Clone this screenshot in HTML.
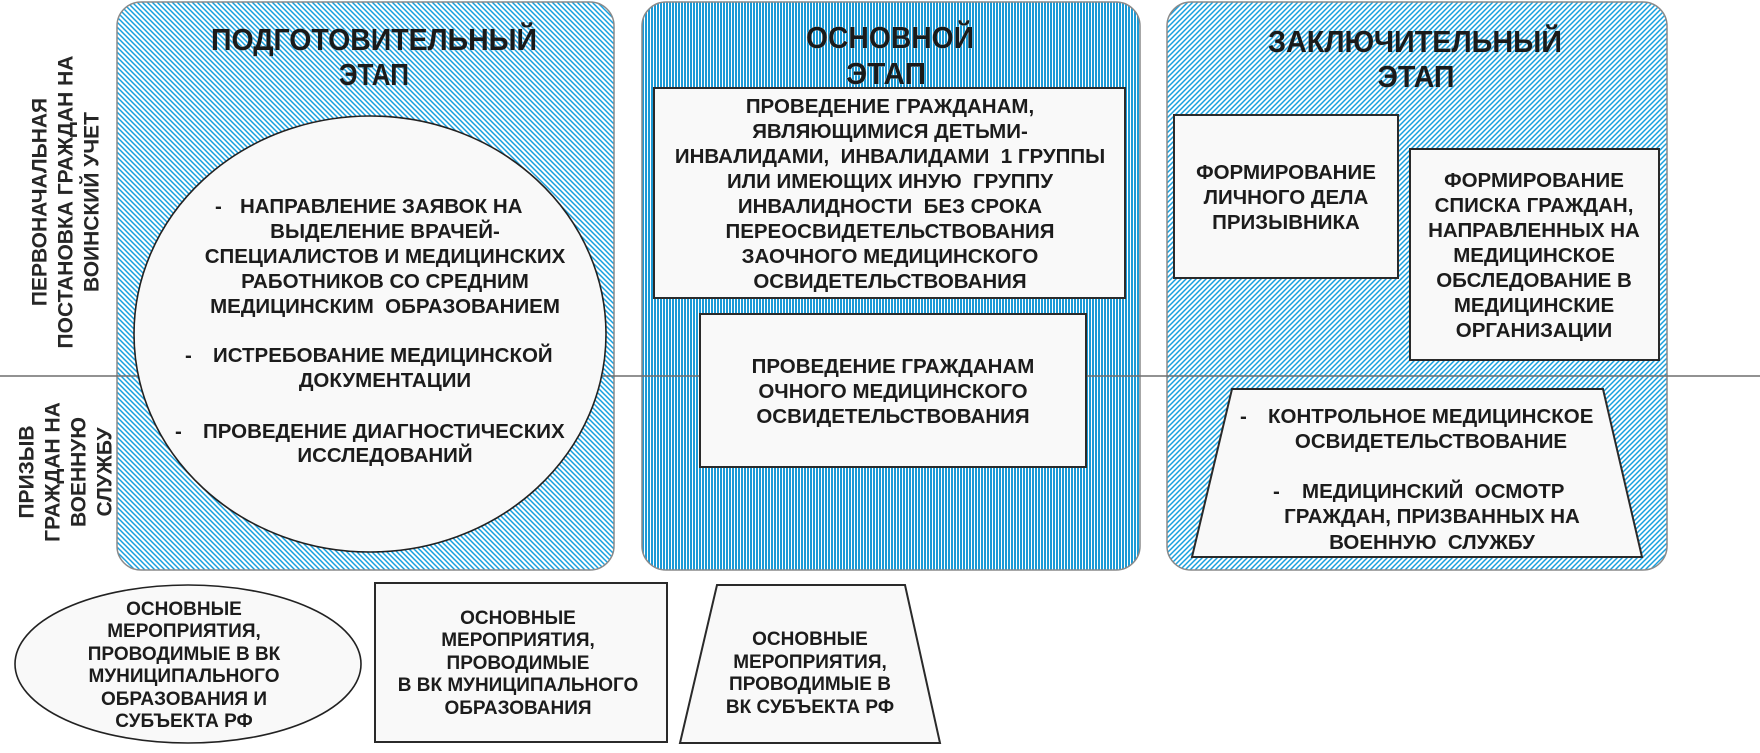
<!DOCTYPE html>
<html><head><meta charset="utf-8"><style>
html,body{margin:0;padding:0;background:#fff;}
svg{display:block;}
text{font-family:"Liberation Sans","DejaVu Sans",sans-serif;font-weight:bold;fill:#1c1c1c;white-space:pre;}
.t{font-size:20.5px;}
.s{font-size:19px;}
.v{font-size:21px;fill:#262626;}
.h{font-size:31px;fill:#1a1a1a;stroke:#9fdcf5;stroke-width:0.6px;paint-order:stroke;}
</style></head><body>
<svg width="1760" height="753" viewBox="0 0 1760 753" xmlns="http://www.w3.org/2000/svg">
<defs>
<pattern id="pl" patternUnits="userSpaceOnUse" x="0" y="0" width="5" height="5">
<rect width="5" height="5" fill="#ffffff"/>
<path d="M-1,4 L1,6 M0,0 L5,5 M4,-1 L6,1" stroke="#18a0de" stroke-width="1.5" fill="none"/></pattern>
<pattern id="pr" patternUnits="userSpaceOnUse" x="0" y="0" width="5" height="5">
<rect width="5" height="5" fill="#ffffff"/>
<path d="M-1,1 L1,-1 M0,5 L5,0 M4,6 L6,4" stroke="#18a0de" stroke-width="1.5" fill="none"/></pattern>
<pattern id="pm" patternUnits="userSpaceOnUse" width="3" height="3">
<rect width="3" height="3" fill="#ffffff"/><rect width="2" height="3" fill="#1b9ad6"/></pattern>
</defs>
<rect width="1760" height="753" fill="#fff"/>

<!-- panels -->
<rect x="117" y="2" width="497" height="568" rx="24" ry="24" fill="url(#pl)" stroke="#8a8a8a" stroke-width="1.5"/>
<rect x="642" y="2" width="498" height="568" rx="24" ry="24" fill="url(#pm)" stroke="#8a8a8a" stroke-width="1.5"/>
<rect x="1167" y="2" width="500" height="568" rx="24" ry="24" fill="url(#pr)" stroke="#8a8a8a" stroke-width="1.5"/>

<!-- divider line -->
<line x1="0" y1="376" x2="1760" y2="376" stroke="#6e6e6e" stroke-width="1.6"/>

<!-- titles -->
<text class="h" x="374" y="50" text-anchor="middle" textLength="326" lengthAdjust="spacingAndGlyphs">ПОДГОТОВИТЕЛЬНЫЙ</text>
<text class="h" x="374" y="85" text-anchor="middle" textLength="70" lengthAdjust="spacingAndGlyphs">ЭТАП</text>
<text class="h" x="890" y="48" text-anchor="middle" textLength="168" lengthAdjust="spacingAndGlyphs">ОСНОВНОЙ</text>
<text class="h" x="886" y="84" text-anchor="middle" textLength="80" lengthAdjust="spacingAndGlyphs">ЭТАП</text>
<text class="h" x="1415" y="52" text-anchor="middle" textLength="294" lengthAdjust="spacingAndGlyphs">ЗАКЛЮЧИТЕЛЬНЫЙ</text>
<text class="h" x="1416" y="87" text-anchor="middle" textLength="77" lengthAdjust="spacingAndGlyphs">ЭТАП</text>

<!-- vertical labels -->
<g class="v">
<text class="v" text-anchor="middle" transform="translate(46.5,202) rotate(-90)">ПЕРВОНАЧАЛЬНАЯ</text>
<text class="v" text-anchor="middle" transform="translate(72.5,202) rotate(-90)">ПОСТАНОВКА ГРАЖДАН НА</text>
<text class="v" text-anchor="middle" transform="translate(98.5,202) rotate(-90)">ВОИНСКИЙ УЧЕТ</text>
<text class="v" text-anchor="middle" transform="translate(33.5,472) rotate(-90)">ПРИЗЫВ</text>
<text class="v" text-anchor="middle" transform="translate(59.5,472) rotate(-90)">ГРАЖДАН НА</text>
<text class="v" text-anchor="middle" transform="translate(85.5,472) rotate(-90)">ВОЕННУЮ</text>
<text class="v" text-anchor="middle" transform="translate(111.5,472) rotate(-90)">СЛУЖБУ</text>
</g>

<!-- left circle -->
<ellipse cx="370" cy="334" rx="236" ry="218" fill="#f9f9f9" stroke="#222" stroke-width="1.6"/>
<g class="t">
<text class="t" x="215" y="213">-</text>
<text class="t" x="240" y="213">НАПРАВЛЕНИЕ ЗАЯВОК НА</text>
<text class="t" x="385" y="238" text-anchor="middle">ВЫДЕЛЕНИЕ ВРАЧЕЙ-</text>
<text class="t" x="385" y="263" text-anchor="middle">СПЕЦИАЛИСТОВ И МЕДИЦИНСКИХ</text>
<text class="t" x="385" y="288" text-anchor="middle">РАБОТНИКОВ СО СРЕДНИМ</text>
<text class="t" x="385" y="313" text-anchor="middle">МЕДИЦИНСКИМ  ОБРАЗОВАНИЕМ</text>
<text class="t" x="185" y="362">-</text>
<text class="t" x="213" y="362">ИСТРЕБОВАНИЕ МЕДИЦИНСКОЙ</text>
<text class="t" x="385" y="387" text-anchor="middle">ДОКУМЕНТАЦИИ</text>
<text class="t" x="175" y="438">-</text>
<text class="t" x="203" y="438">ПРОВЕДЕНИЕ ДИАГНОСТИЧЕСКИХ</text>
<text class="t" x="385" y="462" text-anchor="middle">ИССЛЕДОВАНИЙ</text>
</g>

<!-- middle boxes -->
<rect x="654" y="88" width="471" height="210" fill="#f9f9f9" stroke="#2a2a2a" stroke-width="2"/>
<g>
<text class="t" x="890" y="113" text-anchor="middle">ПРОВЕДЕНИЕ ГРАЖДАНАМ,</text>
<text class="t" x="890" y="138" text-anchor="middle">ЯВЛЯЮЩИМИСЯ ДЕТЬМИ-</text>
<text class="t" x="890" y="163" text-anchor="middle">ИНВАЛИДАМИ,  ИНВАЛИДАМИ  1 ГРУППЫ</text>
<text class="t" x="890" y="188" text-anchor="middle">ИЛИ ИМЕЮЩИХ ИНУЮ  ГРУППУ</text>
<text class="t" x="890" y="213" text-anchor="middle">ИНВАЛИДНОСТИ  БЕЗ СРОКА</text>
<text class="t" x="890" y="238" text-anchor="middle">ПЕРЕОСВИДЕТЕЛЬСТВОВАНИЯ</text>
<text class="t" x="890" y="263" text-anchor="middle">ЗАОЧНОГО МЕДИЦИНСКОГО</text>
<text class="t" x="890" y="288" text-anchor="middle">ОСВИДЕТЕЛЬСТВОВАНИЯ</text>
</g>
<rect x="700" y="314" width="386" height="153" fill="#f9f9f9" stroke="#2a2a2a" stroke-width="2"/>
<text class="t" x="893" y="373" text-anchor="middle">ПРОВЕДЕНИЕ ГРАЖДАНАМ</text>
<text class="t" x="893" y="398" text-anchor="middle">ОЧНОГО МЕДИЦИНСКОГО</text>
<text class="t" x="893" y="423" text-anchor="middle">ОСВИДЕТЕЛЬСТВОВАНИЯ</text>

<!-- right panel -->
<rect x="1174" y="115" width="224" height="163" fill="#f9f9f9" stroke="#2a2a2a" stroke-width="2"/>
<text class="t" x="1286" y="179" text-anchor="middle">ФОРМИРОВАНИЕ</text>
<text class="t" x="1286" y="204" text-anchor="middle">ЛИЧНОГО ДЕЛА</text>
<text class="t" x="1286" y="229" text-anchor="middle">ПРИЗЫВНИКА</text>

<rect x="1410" y="149" width="249" height="211" fill="#f9f9f9" stroke="#2a2a2a" stroke-width="2"/>
<text class="t" x="1534" y="187" text-anchor="middle">ФОРМИРОВАНИЕ</text>
<text class="t" x="1534" y="212" text-anchor="middle">СПИСКА ГРАЖДАН,</text>
<text class="t" x="1534" y="237" text-anchor="middle">НАПРАВЛЕННЫХ НА</text>
<text class="t" x="1534" y="262" text-anchor="middle">МЕДИЦИНСКОЕ</text>
<text class="t" x="1534" y="287" text-anchor="middle">ОБСЛЕДОВАНИЕ В</text>
<text class="t" x="1534" y="312" text-anchor="middle">МЕДИЦИНСКИЕ</text>
<text class="t" x="1534" y="337" text-anchor="middle">ОРГАНИЗАЦИИ</text>

<polygon points="1232,389 1603,389 1642,557 1192,557" fill="#f9f9f9" stroke="#2a2a2a" stroke-width="2"/>
<text class="t" x="1240" y="423">-</text>
<text class="t" x="1268" y="423">КОНТРОЛЬНОЕ МЕДИЦИНСКОЕ</text>
<text class="t" x="1431" y="448" text-anchor="middle">ОСВИДЕТЕЛЬСТВОВАНИЕ</text>
<text class="t" x="1273" y="498">-</text>
<text class="t" x="1302" y="498">МЕДИЦИНСКИЙ  ОСМОТР</text>
<text class="t" x="1432" y="523" text-anchor="middle">ГРАЖДАН, ПРИЗВАННЫХ НА</text>
<text class="t" x="1432" y="549" text-anchor="middle">ВОЕННУЮ  СЛУЖБУ</text>

<!-- bottom legend -->
<ellipse cx="188" cy="664" rx="173" ry="79" fill="#f9f9f9" stroke="#222" stroke-width="1.6"/>
<text class="s" x="184" y="615" text-anchor="middle">ОСНОВНЫЕ</text>
<text class="s" x="184" y="637" text-anchor="middle">МЕРОПРИЯТИЯ,</text>
<text class="s" x="184" y="660" text-anchor="middle">ПРОВОДИМЫЕ В ВК</text>
<text class="s" x="184" y="682" text-anchor="middle">МУНИЦИПАЛЬНОГО</text>
<text class="s" x="184" y="705" text-anchor="middle">ОБРАЗОВАНИЯ И</text>
<text class="s" x="184" y="727" text-anchor="middle">СУБЪЕКТА РФ</text>

<rect x="375" y="583" width="292" height="159" fill="#f9f9f9" stroke="#2a2a2a" stroke-width="2"/>
<text class="s" x="518" y="624" text-anchor="middle">ОСНОВНЫЕ</text>
<text class="s" x="518" y="646" text-anchor="middle">МЕРОПРИЯТИЯ,</text>
<text class="s" x="518" y="669" text-anchor="middle">ПРОВОДИМЫЕ</text>
<text class="s" x="518" y="691" text-anchor="middle">В ВК МУНИЦИПАЛЬНОГО</text>
<text class="s" x="518" y="714" text-anchor="middle">ОБРАЗОВАНИЯ</text>

<polygon points="717,585 905,585 940,743 680,743" fill="#f9f9f9" stroke="#2a2a2a" stroke-width="2"/>
<text class="s" x="810" y="645" text-anchor="middle">ОСНОВНЫЕ</text>
<text class="s" x="810" y="668" text-anchor="middle">МЕРОПРИЯТИЯ,</text>
<text class="s" x="810" y="690" text-anchor="middle">ПРОВОДИМЫЕ В</text>
<text class="s" x="810" y="713" text-anchor="middle">ВК СУБЪЕКТА РФ</text>
</svg>
</body></html>
